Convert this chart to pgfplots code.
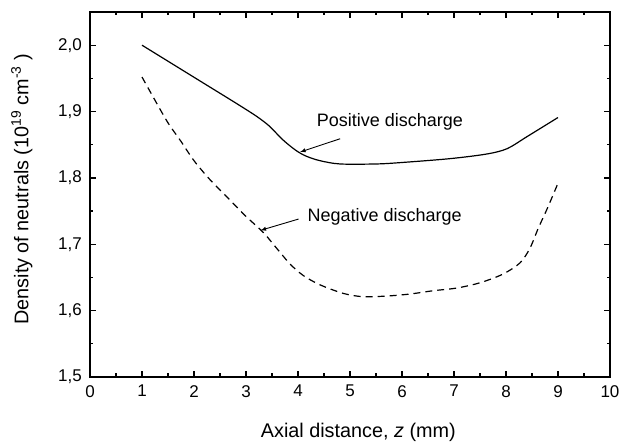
\documentclass[border=0pt]{standalone}
\usepackage{pgfplots}
\pgfplotsset{compat=1.18}
\usepackage{fontspec}
\setmainfont{Liberation Sans}
\begin{document}
\begin{tikzpicture}
\begin{axis}[
  name=ax,
  scale only axis,
  width=520pt, height=365pt,
  xmin=0, xmax=10, ymin=1.5, ymax=2.05,
  xtick={0,1,...,10},
  ytick={1.5,1.6,1.7,1.8,1.9,2.0},
  minor x tick num=1,
  minor ytick={1.55,1.65,1.75,1.85,1.95,2.05},
  tick align=inside,
  major tick length=6pt, minor tick length=3.5pt,
  every tick/.style={black, line width=1.3pt},
  axis line style={line width=1.3pt},
  tick label style={font=\fontsize{17}{19}\selectfont, inner sep=0pt},
  /pgf/number format/assume math mode=true,
  y tick label style={/pgf/number format/use comma, /pgf/number format/fixed, /pgf/number format/fixed zerofill, /pgf/number format/precision=1},
  x tick label style={/pgf/number format/fixed, /pgf/number format/precision=0},
  xticklabel style={yshift=-8pt},
  yticklabel style={xshift=-8pt},
  xlabel={Axial distance, \textit{z} (mm)},
  ylabel={Density of neutrals (10\textsuperscript{19} cm\textsuperscript{-3} )},
  label style={font=\fontsize{19.8}{22}\selectfont, inner sep=0pt},
  xlabel style={at={(axis description cs:0.516,-0.165)}, anchor=base},
  ylabel style={at={(axis description cs:-0.1183,0.5146)}, anchor=base},
]
\addplot[black, line width=1.2pt, smooth, tension=0.5] coordinates {
(1,2.0) (1.6,1.971) (2.2,1.942) (2.8,1.913) (3.2,1.893) (3.45,1.878) (3.7,1.858) (3.95,1.842) (4.15,1.833) (4.42,1.826) (4.81,1.821) (5.5,1.821) (5.96,1.823) (6.92,1.829) (7.63,1.836) (8.02,1.844) (8.4,1.862) (9,1.891)
};
\addplot[black, line width=1.2pt, dash pattern=on 7pt off 5pt, smooth, tension=0.5] coordinates {
(1,1.952) (1.25,1.917) (1.5,1.883) (1.75,1.855) (2,1.826) (2.3,1.798) (2.65,1.770) (3,1.742) (3.33,1.718) (3.6,1.693) (3.85,1.670) (4.1,1.653) (4.42,1.639) (4.87,1.626) (5.25,1.621) (5.71,1.622) (6.15,1.625) (6.6,1.630) (7.05,1.634) (7.5,1.642) (7.94,1.655) (8.27,1.672) (8.46,1.694) (8.62,1.724) (8.8,1.755) (9,1.792)
};
\draw[-latex, line width=0.9pt] (axis cs:4.81,1.859) -- (axis cs:4.04,1.839);
\draw[-latex, line width=0.9pt] (axis cs:4.01,1.738) -- (axis cs:3.28,1.721);
\node[anchor=base west, inner sep=0pt, font=\fontsize{18}{20}\selectfont] at (axis cs:4.36,1.877) {Positive discharge};
\node[anchor=base west, inner sep=0pt, font=\fontsize{18}{20}\selectfont] at (axis cs:4.18,1.735) {Negative discharge};
\end{axis}
\pgfresetboundingbox
\path (ax.south west) ++(-90pt,-65pt) rectangle ++(619pt,442pt);
\end{tikzpicture}
\end{document}
